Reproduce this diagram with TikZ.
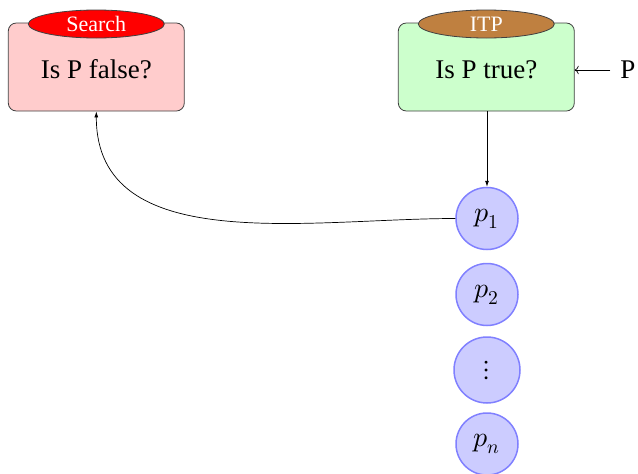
\documentclass[tikz,border=0pt]{standalone}
\usepackage{fontspec}
\usepackage{unicode-math}
\setmainfont{Liberation Serif}
\setmathfont{Latin Modern Math}
\usetikzlibrary{arrows.meta,shapes.geometric}
\begin{document}
\begin{tikzpicture}[x=1pt,y=-1pt,
  stagebox/.style={draw=black!75, line width=0.8pt, rounded corners=8pt,
    minimum width=176pt, minimum height=88pt, inner sep=0pt,
    text height=22pt, text depth=0pt, font=\fontsize{27}{32}\selectfont},
  tagoval/.style={ellipse, draw=black!75, line width=0.8pt, minimum width=136pt,
    minimum height=28pt, inner sep=0pt, text=white, font=\fontsize{22}{26}\selectfont},
  term/.style={circle, draw=blue!50, fill=blue!20, line width=1.5pt,
    minimum size=62pt, inner sep=0pt, font=\fontsize{28}{32}\selectfont},
  link/.style={line width=0.7pt, -{Latex[length=6pt,width=4pt]}}]
\useasboundingbox (0,0) rectangle (638,474);

% the two deciders
\node[stagebox, fill=red!20] (search) at (96.3,67) {Is P false?};
\node[tagoval, fill=red] (searchtag) at (96.3,24) {Search};
\node[stagebox, fill=green!20] (itp) at (486.3,67) {Is P true?};
\node[tagoval, fill=brown] (itptag) at (486.3,24) {ITP};

% incoming proposition
\node[font=\fontsize{27}{32}\selectfont, inner sep=0pt] (prop) at (628,70) {P};
\draw[line width=0.7pt, -{To[length=4pt]}] ([xshift=-10pt]prop.west) -- (prop.west -| itp.east);

% generated terms
\node[term] (p1) at (487,218.5) {$p_1$};
\node[term] (p2) at (487,294.5) {$p_2$};
\node[term, minimum size=66pt] (pdots) at (487,370) {$\vdots$};
\node[term] (pn) at (487,444) {$p_n$};

% connectors
\draw[link] (itp.south -| p1.north) -- (p1.north);
\draw[link] (p1.west) to[out=180, in=-90] (search.south);
\end{tikzpicture}
\end{document}
